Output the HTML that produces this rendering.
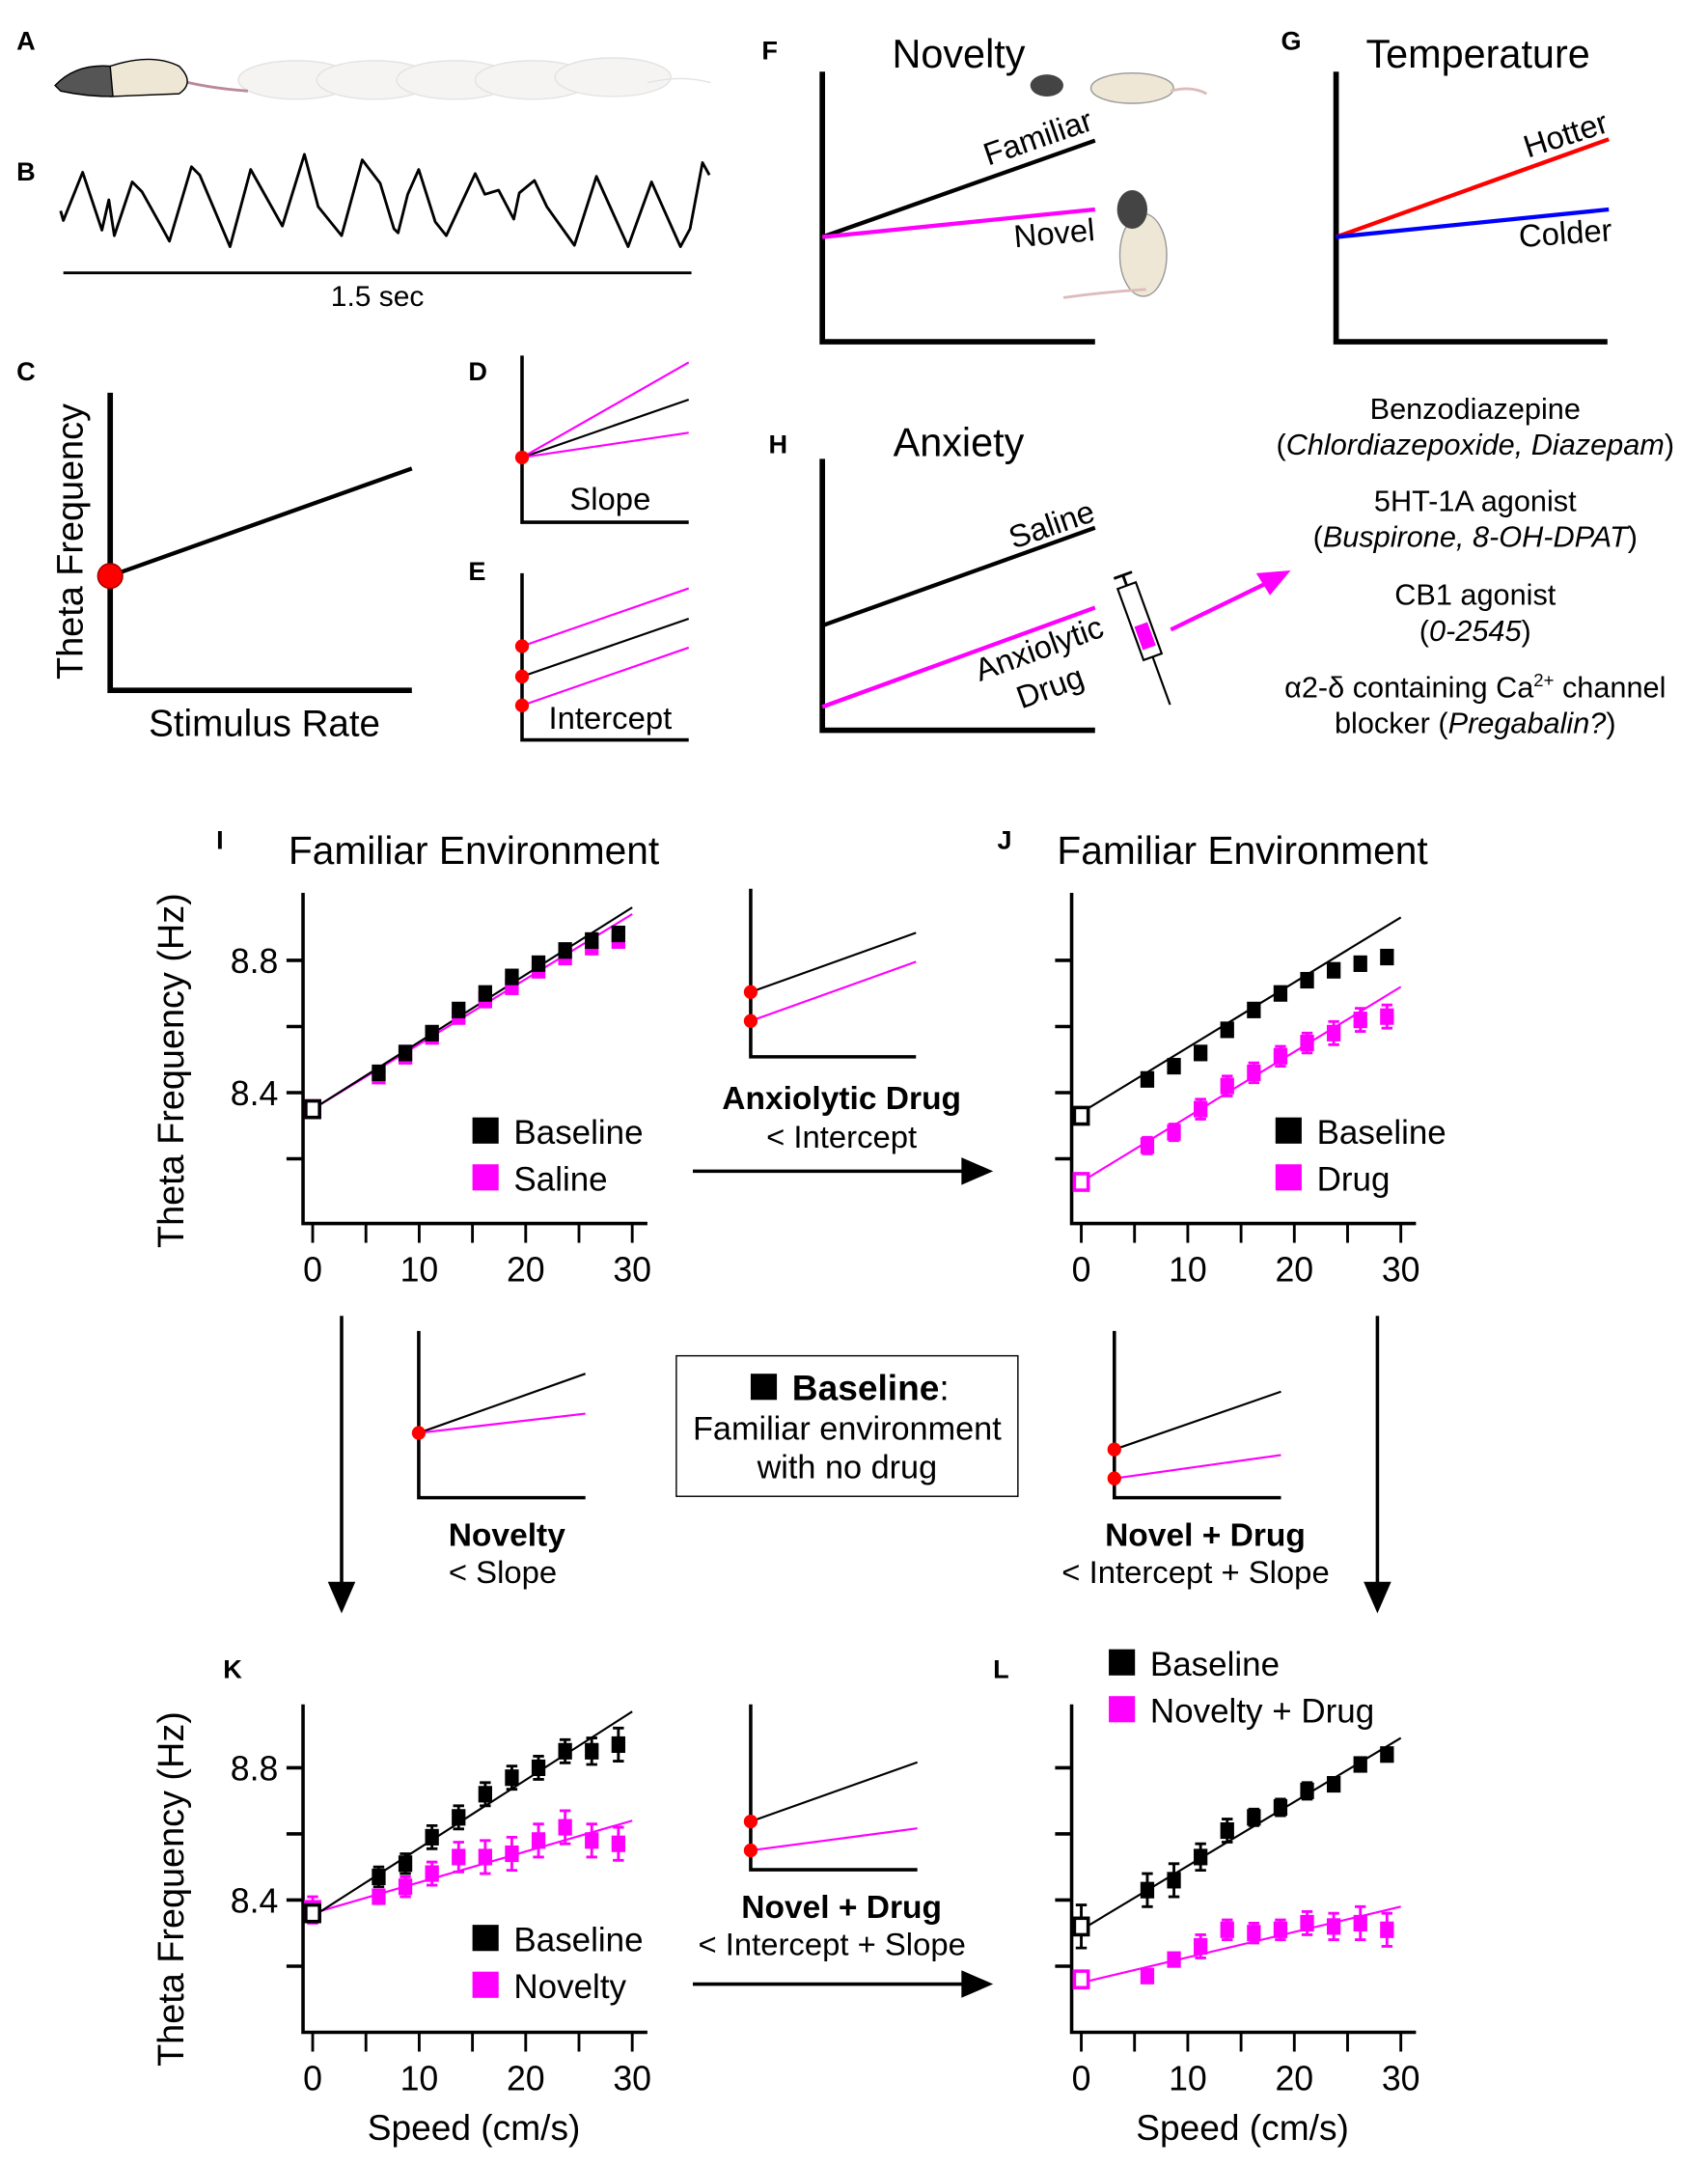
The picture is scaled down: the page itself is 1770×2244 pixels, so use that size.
<!DOCTYPE html>
<html><head><meta charset="utf-8"><style>
html,body{margin:0;padding:0;background:#fff;}
svg{display:block;font-family:"Liberation Sans",Arial,sans-serif;}
</style></head><body>
<svg id="fig" width="1770" height="2244" viewBox="0 0 1240 1572" xmlns="http://www.w3.org/2000/svg">
<g font-weight="bold" font-size="19" fill="#000">
<text x="12" y="36">A</text><text x="12" y="131">B</text><text x="12" y="276">C</text>
<text x="340" y="276">D</text><text x="340" y="421">E</text><text x="553" y="43">F</text>
<text x="930" y="36">G</text><text x="558" y="329">H</text><text x="157" y="616">I</text>
<text x="724" y="616">J</text><text x="162" y="1218">K</text><text x="721" y="1218">L</text>
</g>
<!-- A: rats -->
<g>
<g opacity="0.4" fill="#e8e6e0" stroke="#bbb" stroke-width="1">
<ellipse cx="215" cy="58" rx="42" ry="14"/><ellipse cx="272" cy="58" rx="42" ry="14"/>
<ellipse cx="330" cy="58" rx="42" ry="14"/><ellipse cx="387" cy="58" rx="42" ry="14"/>
<ellipse cx="445" cy="56" rx="42" ry="14"/>
<path d="M470 60 Q 495 54 516 60" fill="none"/>
</g>
<path d="M125 57 Q 150 64 180 66" stroke="#b89" stroke-width="2" fill="none"/>
<path d="M80 48 Q 110 38 130 48 Q 142 60 130 68 L 80 70 Z" fill="#efe7d6" stroke="#000" stroke-width="1"/>
<path d="M80 48 Q 55 46 40 62 L 44 66 Q 62 70 82 70 Z" fill="#555" stroke="#000" stroke-width="1"/>
</g>
<!-- B: waveform -->
<polyline fill="none" stroke="#000" stroke-width="2" stroke-linejoin="round"
points="44,153 46,160 60,125 74,167 79,145 83,171 96,132 103,139 117,164 123,175 139,121 145,127 167,179 182,123 205,164 221,112 231,150 248,171 263,116 276,133 286,166 289,169 296,141 304,123 316,161 324,171 345,126 352,141 362,138 373,159 377,140 388,131 397,150 417,178 433,128 456,179 473,132 494,179 501,166 510,118 515,127"/>
<line x1="46" y1="198" x2="502" y2="198" stroke="#000" stroke-width="2"/>
<text x="274" y="222" font-size="21" text-anchor="middle">1.5 sec</text>
<!-- C -->
<g>
<path d="M80 285 V501 H299" fill="none" stroke="#000" stroke-width="4"/>
<line x1="80" y1="418" x2="299" y2="340" stroke="#000" stroke-width="3"/>
<circle cx="80" cy="418" r="9" fill="red" stroke="#900"/>
<text transform="translate(60,393) rotate(-90)" font-size="26.5" text-anchor="middle">Theta Frequency</text>
<text x="192" y="534" font-size="27" text-anchor="middle">Stimulus Rate</text>
</g>
<!-- D -->
<g>
<path d="M379 258 V379 H500" fill="none" stroke="#000" stroke-width="2.5"/>
<line x1="379" y1="332" x2="500" y2="290" stroke="#000" stroke-width="1.5"/>
<line x1="379" y1="332" x2="500" y2="263" stroke="#f0f" stroke-width="1.5"/>
<line x1="379" y1="332" x2="500" y2="314" stroke="#f0f" stroke-width="1.5"/>
<circle cx="379" cy="332" r="5" fill="red"/>
<text x="443" y="370" font-size="23" text-anchor="middle">Slope</text>
</g>
<!-- E -->
<g>
<path d="M379 416 V537 H500" fill="none" stroke="#000" stroke-width="2.5"/>
<line x1="379" y1="469" x2="500" y2="427" stroke="#f0f" stroke-width="1.5"/>
<line x1="379" y1="491" x2="500" y2="449" stroke="#000" stroke-width="1.5"/>
<line x1="379" y1="512" x2="500" y2="470" stroke="#f0f" stroke-width="1.5"/>
<circle cx="379" cy="469" r="5" fill="red"/><circle cx="379" cy="491" r="5" fill="red"/><circle cx="379" cy="512" r="5" fill="red"/>
<text x="443" y="529" font-size="23" text-anchor="middle">Intercept</text>
</g>
<!-- F -->
<g>
<path d="M597 52 V248 H795" fill="none" stroke="#000" stroke-width="4"/>
<line x1="597" y1="172" x2="795" y2="102" stroke="#000" stroke-width="3"/>
<line x1="597" y1="172" x2="795" y2="152" stroke="#f0f" stroke-width="3"/>
<text x="696" y="49" font-size="29" text-anchor="middle">Novelty</text>
<text transform="translate(756,107) rotate(-19)" font-size="23" text-anchor="middle">Familiar</text>
<text transform="translate(766,177) rotate(-5)" font-size="23" text-anchor="middle">Novel</text>
<ellipse cx="822" cy="64" rx="30" ry="11" fill="#efe7d6" stroke="#999"/>
<ellipse cx="760" cy="62" rx="12" ry="8" fill="#444"/>
<path d="M850 66 Q 865 62 876 68" stroke="#dbb" stroke-width="2" fill="none"/>
<ellipse cx="830" cy="185" rx="17" ry="30" fill="#efe7d6" stroke="#999"/>
<ellipse cx="822" cy="152" rx="11" ry="14" fill="#444"/>
<path d="M772 216 Q 800 212 832 210" stroke="#dbb" stroke-width="2" fill="none"/>
</g>
<!-- G -->
<g>
<path d="M970 52 V248 H1167" fill="none" stroke="#000" stroke-width="4"/>
<line x1="970" y1="172" x2="1168" y2="101" stroke="red" stroke-width="3"/>
<line x1="970" y1="172" x2="1168" y2="152" stroke="#00f" stroke-width="3"/>
<text x="1073" y="49" font-size="29" text-anchor="middle">Temperature</text>
<text transform="translate(1139,105) rotate(-18)" font-size="23" text-anchor="middle">Hotter</text>
<text transform="translate(1137,177) rotate(-4)" font-size="23" text-anchor="middle">Colder</text>
</g>
<!-- H -->
<g>
<path d="M597 333 V530 H795" fill="none" stroke="#000" stroke-width="4"/>
<line x1="597" y1="454" x2="795" y2="383" stroke="#000" stroke-width="3"/>
<line x1="597" y1="513" x2="795" y2="441" stroke="#f0f" stroke-width="3"/>
<text x="696" y="331" font-size="29" text-anchor="middle">Anxiety</text>
<text transform="translate(766,388) rotate(-19)" font-size="23" text-anchor="middle">Saline</text>
<text transform="translate(757,478) rotate(-20)" font-size="23" text-anchor="middle">Anxiolytic</text>
<text transform="translate(765,506) rotate(-20)" font-size="23" text-anchor="middle">Drug</text>
<g transform="translate(818,425) rotate(-20)">
<rect x="-7" y="0" width="14" height="55" fill="#fff" stroke="#000" stroke-width="1.5"/>
<rect x="-5" y="30" width="10" height="18" fill="#f0f"/>
<line x1="0" y1="-8" x2="0" y2="0" stroke="#000" stroke-width="2"/><line x1="-7" y1="-8" x2="7" y2="-8" stroke="#000" stroke-width="2"/>
<line x1="0" y1="55" x2="0" y2="92" stroke="#000" stroke-width="1.5"/>
</g>
<line x1="850" y1="457" x2="922" y2="422" stroke="#f0f" stroke-width="3"/>
<polygon points="937,414 912,416 922,432" fill="#f0f"/>
</g>
<g font-size="21.5" text-anchor="middle">
<text x="1071" y="304">Benzodiazepine</text>
<text x="1071" y="330">(<tspan font-style="italic">Chlordiazepoxide, Diazepam</tspan>)</text>
<text x="1071" y="371">5HT-1A agonist</text>
<text x="1071" y="397">(<tspan font-style="italic">Buspirone, 8-OH-DPAT</tspan>)</text>
<text x="1071" y="439">CB1 agonist</text>
<text x="1071" y="465">(<tspan font-style="italic">0-2545</tspan>)</text>
<text x="1071" y="506">α2-δ containing Ca<tspan font-size="13" dy="-8">2+</tspan><tspan dy="8"> channel</tspan></text>
<text x="1071" y="532">blocker (<tspan font-style="italic">Pregabalin?</tspan>)</text>
</g>
<!-- middle schematics -->
<g>
<path d="M545 645 V767 H665" fill="none" stroke="#000" stroke-width="2.5"/>
<line x1="545" y1="720" x2="665" y2="677" stroke="#000" stroke-width="1.5"/>
<line x1="545" y1="741" x2="665" y2="698" stroke="#f0f" stroke-width="1.5"/>
<circle cx="545" cy="720" r="5" fill="red"/><circle cx="545" cy="741" r="5" fill="red"/>
<text x="611" y="805" font-size="23.5" font-weight="bold" text-anchor="middle">Anxiolytic Drug</text>
<text x="611" y="833" font-size="23" text-anchor="middle">&lt; Intercept</text>
<line x1="503" y1="850" x2="700" y2="850" stroke="#000" stroke-width="2.5"/><polygon points="721,850 698,840 698,860"/>
</g>
<g>
<path d="M304 966 V1087 H425" fill="none" stroke="#000" stroke-width="2.5"/>
<line x1="304" y1="1040" x2="425" y2="997" stroke="#000" stroke-width="1.5"/>
<line x1="304" y1="1040" x2="425" y2="1026" stroke="#f0f" stroke-width="1.5"/>
<circle cx="304" cy="1040" r="5" fill="red"/>
<text x="368" y="1122" font-size="23.5" font-weight="bold" text-anchor="middle">Novelty</text>
<text x="365" y="1149" font-size="23" text-anchor="middle">&lt; Slope</text>
</g>
<g>
<rect x="491" y="984" width="248" height="102" fill="#fff" stroke="#000" stroke-width="1"/>
<rect x="545" y="997" width="19" height="19" fill="#000"/>
<text x="575" y="1016" font-size="26" font-weight="bold">Baseline<tspan font-weight="normal">:</tspan></text>
<text x="615" y="1045" font-size="24" text-anchor="middle">Familiar environment</text>
<text x="615" y="1073" font-size="24" text-anchor="middle">with no drug</text>
</g>
<g>
<path d="M809 966 V1087 H930" fill="none" stroke="#000" stroke-width="2.5"/>
<line x1="809" y1="1052" x2="930" y2="1010" stroke="#000" stroke-width="1.5"/>
<line x1="809" y1="1073" x2="930" y2="1056" stroke="#f0f" stroke-width="1.5"/>
<circle cx="809" cy="1052" r="5" fill="red"/><circle cx="809" cy="1073" r="5" fill="red"/>
<text x="875" y="1122" font-size="23.5" font-weight="bold" text-anchor="middle">Novel + Drug</text>
<text x="868" y="1149" font-size="23" text-anchor="middle">&lt; Intercept + Slope</text>
</g>
<g>
<line x1="248" y1="955" x2="248" y2="1150" stroke="#000" stroke-width="2.5"/><polygon points="248,1171 238,1148 258,1148"/>
<line x1="1000" y1="955" x2="1000" y2="1150" stroke="#000" stroke-width="2.5"/><polygon points="1000,1171 990,1148 1010,1148"/>
</g>
<g>
<path d="M545 1237 V1357 H666" fill="none" stroke="#000" stroke-width="2.5"/>
<line x1="545" y1="1322" x2="666" y2="1279" stroke="#000" stroke-width="1.5"/>
<line x1="545" y1="1343" x2="666" y2="1327" stroke="#f0f" stroke-width="1.5"/>
<circle cx="545" cy="1322" r="5" fill="red"/><circle cx="545" cy="1343" r="5" fill="red"/>
<text x="611" y="1392" font-size="23.5" font-weight="bold" text-anchor="middle">Novel + Drug</text>
<text x="604" y="1419" font-size="23" text-anchor="middle">&lt; Intercept + Slope</text>
<line x1="503" y1="1440" x2="700" y2="1440" stroke="#000" stroke-width="2.5"/><polygon points="721,1440 698,1430 698,1450"/>
</g>
<g id="charts"></g>
<g font-size="28.5" text-anchor="middle">
<text x="344" y="627">Familiar Environment</text>
<text x="902" y="627">Familiar Environment</text>
<text transform="translate(133,777) rotate(-90)" font-size="26.5">Theta Frequency (Hz)</text>
<text transform="translate(133,1371) rotate(-90)" font-size="26.5">Theta Frequency (Hz)</text>
<text x="344" y="1553" font-size="26">Speed (cm/s)</text>
<text x="902" y="1553" font-size="26">Speed (cm/s)</text>
</g>
</svg>
<script>
const speeds = [0, 6.2, 8.7, 11.2, 13.7, 16.2, 18.7, 21.2, 23.7, 26.2, 28.7];
const xTicks = [0, 10, 20, 30];
const yTickLabels = [8.4, 8.8];
const yTickMarks = [8.2, 8.4, 8.6, 8.8];
const iBaseline = [8.35, 8.46, 8.52, 8.58, 8.65, 8.70, 8.75, 8.79, 8.83, 8.86, 8.88];
const iSaline   = [8.35, 8.45, 8.51, 8.57, 8.63, 8.68, 8.72, 8.77, 8.81, 8.84, 8.86];
const iFitBase = [8.35, 8.96];
const iFitSal  = [8.35, 8.94];
const jBaseline = [8.33, 8.44, 8.48, 8.52, 8.59, 8.65, 8.70, 8.74, 8.77, 8.79, 8.81];
const jBaseErr  = [0.01, 0.01, 0.01, 0.01, 0.01, 0.01, 0.01, 0.01, 0.01, 0.01, 0.015];
const jDrug     = [8.13, 8.24, 8.28, 8.35, 8.42, 8.46, 8.51, 8.55, 8.58, 8.62, 8.63];
const jDrugErr  = [0.015, 0.025, 0.025, 0.03, 0.03, 0.03, 0.03, 0.03, 0.035, 0.035, 0.035];
const jFitBase = [8.34, 8.93];
const jFitDrug = [8.13, 8.72];
const kBaseline = [8.36, 8.47, 8.51, 8.59, 8.65, 8.72, 8.77, 8.80, 8.85, 8.85, 8.87];
const kBaseErr  = [0.02, 0.03, 0.03, 0.035, 0.035, 0.035, 0.035, 0.035, 0.035, 0.04, 0.05];
const kNovelty  = [8.37, 8.41, 8.44, 8.48, 8.53, 8.53, 8.54, 8.58, 8.62, 8.58, 8.57];
const kNovErr   = [0.04, 0.02, 0.03, 0.035, 0.045, 0.05, 0.05, 0.05, 0.05, 0.05, 0.05];
const kFitBase = [8.35, 8.97];
const kFitNov  = [8.36, 8.64];
const lBaseline = [8.32, 8.43, 8.46, 8.53, 8.61, 8.65, 8.68, 8.73, 8.75, 8.81, 8.84];
const lBaseErr  = [0.065, 0.05, 0.05, 0.04, 0.035, 0.025, 0.025, 0.025, 0.02, 0.02, 0.015];
const lDrug     = [8.16, 8.17, 8.22, 8.26, 8.31, 8.30, 8.31, 8.33, 8.32, 8.33, 8.31];
const lDrugErr  = [0.01, 0.01, 0.015, 0.035, 0.03, 0.03, 0.03, 0.035, 0.04, 0.05, 0.05];
const lFitBase = [8.31, 8.89];
const lFitDrug = [8.15, 8.38];

const NS = 'http://www.w3.org/2000/svg';
const root = document.getElementById('charts');
function mk(tag, attrs, parent){ const e=document.createElementNS(NS,tag); for(const k in attrs) e.setAttribute(k,attrs[k]); parent.appendChild(e); return e; }

function chart(name, ax, y88, y84, top, bottom, series, legend, showYLabels){
  const g = mk('g', {}, root);
  
  
  const x0 = ax + 7, x30 = ax + 239;
  const X = v => x0 + (x30 - x0) * v / 30;
  const Y = v => y84 + (v - 8.4) * (y88 - y84) / 0.4;
  mk('path', {d:`M${ax} ${top} V${bottom} H${ax+250}`, fill:'none', stroke:'#000', 'stroke-width':2.5}, g);
  yTickMarks.forEach(t => { mk('line', {x1:ax-12, x2:ax, y1:Y(t), y2:Y(t), stroke:'#000', 'stroke-width':2.5}, g); });
  if (showYLabels) yTickLabels.forEach(t => {
    const tx = mk('text', {x:ax-18, y:Y(t)+9, 'font-size':25, 'text-anchor':'end'}, g); tx.textContent = t.toFixed(1);
    
    
  });
  for (let v = 0; v <= 30; v += 5) mk('line', {x1:X(v), x2:X(v), y1:bottom, y2:bottom+14, stroke:'#000', 'stroke-width':2}, g);
  xTicks.forEach(t => {
    const tx = mk('text', {x:X(t), y:bottom+42, 'font-size':25, 'text-anchor':'middle'}, g); tx.textContent = t;
    
    
  });
  series.forEach(s => {
    const fit = mk('line', {x1:X(0), y1:Y(s.fit[0]), x2:X(30), y2:Y(s.fit[1]), stroke:s.color, 'stroke-width':1.5}, g);
    
    
  });
  series.forEach(s => {
    s.vals.forEach((v, i) => {
      const cx = X(speeds[i]), cy = Y(v);
      if (s.err) {
        const e = s.err[i], y1 = Y(v + e), y2 = Y(v - e);
        mk('path', {d:`M${cx} ${y1} V${y2} M${cx-4} ${y1} H${cx+4} M${cx-4} ${y2} H${cx+4}`, stroke:s.color, 'stroke-width':2, fill:'none'}, g);
      }
      const r = mk('rect', {x:cx-5, y:cy-6, width:10, height:12}, g);
      if (i === 0) { r.setAttribute('fill', '#fff'); r.setAttribute('stroke', s.color); r.setAttribute('stroke-width', 2.5); }
      else r.setAttribute('fill', s.color);
      
      
    });
  });
  legend.items.forEach((it, k) => {
    const yy = legend.y + k * 34;
    const sq = mk('rect', {x:legend.x, y:yy-19, width:19, height:19, fill:it.color}, g);
    
    
    const t = mk('text', {x:legend.x+30, y:yy, 'font-size':24.5}, g); t.textContent = it.label;
    
    
  });
}
chart('chart-i', 220, 697, 793, 648, 888,
  [{key:'saline', vals:iSaline, fit:iFitSal, color:'#f0f'}, {key:'baseline', vals:iBaseline, fit:iFitBase, color:'#000'}],
  {x:343, y:830, items:[{label:'Baseline', color:'#000'}, {label:'Saline', color:'#f0f'}]}, true);
chart('chart-j', 778, 697, 793, 648, 888,
  [{key:'baseline', vals:jBaseline, err:jBaseErr, fit:jFitBase, color:'#000'}, {key:'drug', vals:jDrug, err:jDrugErr, fit:jFitDrug, color:'#f0f'}],
  {x:926, y:830, items:[{label:'Baseline', color:'#000'}, {label:'Drug', color:'#f0f'}]}, false);
chart('chart-k', 220, 1283, 1379, 1237, 1475,
  [{key:'novelty', vals:kNovelty, err:kNovErr, fit:kFitNov, color:'#f0f'}, {key:'baseline', vals:kBaseline, err:kBaseErr, fit:kFitBase, color:'#000'}],
  {x:343, y:1416, items:[{label:'Baseline', color:'#000'}, {label:'Novelty', color:'#f0f'}]}, true);
chart('chart-l', 778, 1283, 1379, 1237, 1475,
  [{key:'baseline', vals:lBaseline, err:lBaseErr, fit:lFitBase, color:'#000'}, {key:'novelty-drug', vals:lDrug, err:lDrugErr, fit:lFitDrug, color:'#f0f'}],
  {x:805, y:1216, items:[{label:'Baseline', color:'#000'}, {label:'Novelty + Drug', color:'#f0f'}]}, false);
</script>
</body></html>
